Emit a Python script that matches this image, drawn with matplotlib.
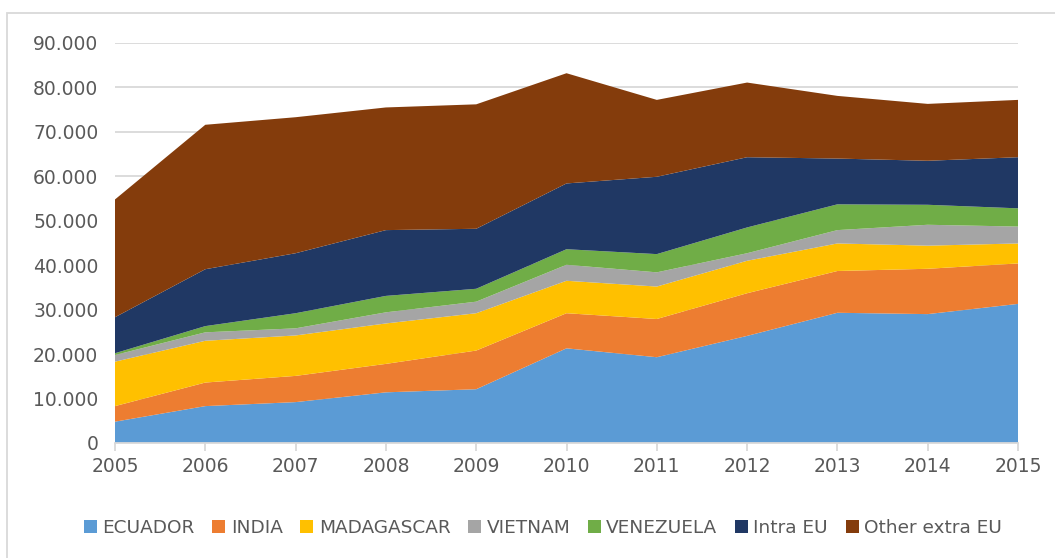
import matplotlib.pyplot as plt
import matplotlib.ticker as mticker
from matplotlib.patches import Rectangle

years = [2005, 2006, 2007, 2008, 2009, 2010, 2011, 2012, 2013, 2014, 2015]
ecuador = [4800, 8300, 9200, 11400, 12100, 21300, 19300, 24100, 29300, 29000, 31300]
india = [3500, 5300, 5900, 6400, 8700, 7900, 8600, 9600, 9400, 10200, 9100]
madagascar = [10000, 9400, 9100, 9100, 8400, 7300, 7300, 7300, 6200, 5200, 4500]
vietnam = [1500, 1900, 1600, 2500, 2600, 3600, 3200, 1700, 3000, 4700, 3800]
venezuela = [400, 1400, 3400, 3700, 2900, 3500, 4100, 5800, 5800, 4500, 4100]
intra_eu = [8100, 12800, 13500, 14800, 13500, 14800, 17400, 15800, 10300, 9900, 11500]
other_extra_eu = [26500, 32500, 30600, 27600, 28000, 24800, 17300, 16800, 14100, 12800, 12900]

labels = ['ECUADOR', 'INDIA', 'MADAGASCAR', 'VIETNAM', 'VENEZUELA', 'Intra EU', 'Other extra EU']
colors = ['#5B9BD5', '#ED7D31', '#FFC000', '#A5A5A5', '#70AD47', '#203864', '#843C0C']

fig = plt.figure(figsize=(10.55, 5.58), dpi=100)
ax = fig.add_axes([115 / 1055, 1 - 443 / 558, (1018 - 115) / 1055, 400 / 558])

ax.stackplot(years, ecuador, india, madagascar, vietnam, venezuela, intra_eu, other_extra_eu,
             labels=labels, colors=colors, linewidth=0, zorder=2)

ax.set_xlim(2005, 2015)
ax.set_ylim(0, 90000)
ax.set_xticks(years)
ax.set_yticks(range(0, 90001, 10000))
ax.yaxis.set_major_formatter(mticker.FuncFormatter(lambda v, p: f'{int(v):,}'.replace(',', '.')))
ax.grid(axis='y', color='#d9d9d9', linewidth=1.3, zorder=0)
ax.set_axisbelow(True)
for s in ['top', 'right', 'left']:
    ax.spines[s].set_visible(False)
ax.spines['bottom'].set_color('#d9d9d9')
ax.spines['bottom'].set_linewidth(1.3)
ax.tick_params(axis='y', length=0, pad=12, labelsize=13.5, labelcolor='#595959')
ax.tick_params(axis='x', length=6, color='#d9d9d9', width=1.3, pad=4, labelsize=13.5, labelcolor='#595959')

leg = fig.legend(loc='center', bbox_to_anchor=(543 / 1055, 1 - 528 / 558), ncol=7, frameon=False,
                 fontsize=13.3, handlelength=0.7, handleheight=0.7, handletextpad=0.3,
                 columnspacing=0.95, labelcolor='#595959')

fig.patches.append(Rectangle((7 / 1055, -0.1), 1.1, 1.1 - 13 / 558, transform=fig.transFigure,
                             fill=False, edgecolor='#d9d9d9', linewidth=1.3))

fig.savefig('out.png', dpi=100)
